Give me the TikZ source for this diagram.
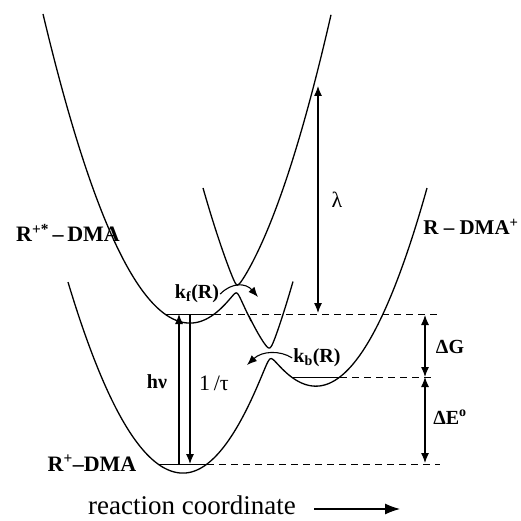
\documentclass[tikz,border=0pt]{standalone}
\usepackage{fontspec}
\setmainfont{Liberation Serif}
\usetikzlibrary{calc}
\usetikzlibrary{arrows.meta}
\tikzset{
  declare function={
    Ees(\x)=32.3-(\x<19?0.143:0.155)*(\x-19)^2;
    Ecs(\x)=38.6-(\x<31.6?0.155:0.1607)*(\x-31.6)^2;
    Egs(\x)=47.3-(\x<18.3?0.1444:0.158)*(\x-18.3)^2;
    lo(\a,\b,\v)=(\a+\b)/2+sqrt(((\a-\b)/2)^2+\v^2);
    hi(\a,\b,\v)=(\a+\b)/2-sqrt(((\a-\b)/2)^2+\v^2);
  },
  surf/.style={line width=1.3pt},
  lvl/.style={line width=1pt},
  lvldash/.style={line width=1pt, dash pattern=on 7pt off 5pt},
  tip/.style={line width=1.1pt, >={Latex[length=10pt,width=8pt]}},
  lab/.style={font=\fontsize{20}{24}\selectfont\bfseries, inner sep=1pt},
  state/.style={font=\fontsize{22}{26}\selectfont\bfseries, inner sep=1pt},
  sym/.style={font=\fontsize{22}{26}\selectfont, inner sep=1pt}
}

\begin{document}
\begin{tikzpicture}[x=10pt,y=-10pt]
\useasboundingbox (0,0) rectangle (52,52.1);
% potential curves
\draw[surf] plot[domain=4.3:25,samples=150] (\x,{lo(Ees(\x),Ecs(\x),0.4)})
  -- plot[domain=25:29.3,samples=50] (\x,{hi(Ecs(\x),Egs(\x),0.55)});
\draw[surf] plot[domain=20.3:33.1,samples=120] (\x,{hi(Ees(\x),Ecs(\x),0.4)});
\draw[surf] plot[domain=6.8:42.7,samples=220] (\x,{lo(Ecs(\x),Egs(\x),0.55)});
% levels
\coordinate (esL) at (16.5,31.4);
\coordinate (esR) at (21.4,31.4);
\coordinate (esE) at (44.0,31.4);
\coordinate (csL) at (29.2,37.7);
\coordinate (csR) at (34.0,37.7);
\coordinate (csE) at (43.5,37.7);
\coordinate (gsL) at (15.8,46.4);
\coordinate (gsR) at (20.7,46.4);
\coordinate (gsE) at (44.0,46.4);
\draw[lvl] (esL) -- (esR);
\draw[lvl] (csL) -- (csR);
\draw[lvl] (gsL) -- (gsR);
\draw[lvldash] (esR) -- (esE);
\draw[lvldash] (csR) -- (csE);
\draw[lvldash] (gsR) -- (gsE);
% vertical arrows
\coordinate (hvB) at (17.9,46.4);
\coordinate (hvT) at (17.9,31.4);
\coordinate (tauT) at (19.0,31.4);
\coordinate (tauB) at (19.0,46.4);
\coordinate (lamT) at (31.8,8.6);
\coordinate (lamB) at (31.8,31.3);
\coordinate (dgT) at (42.5,31.5);
\coordinate (dgB) at (42.5,37.7);
\coordinate (deB) at (42.5,46.3);
\draw[tip,->] (hvB) -- (hvT);
\draw[tip,->] (tauT) -- (tauB);
\draw[tip,<->] (lamB) -- (lamT);
\draw[tip,<->] (dgT) -- (dgB);
\draw[tip,<->] (dgB) -- (deB);
% labels
\node[state] (exc) at (6.8,23.3) {R\textsuperscript{+*}\,–\,DMA};
\node[state, font=\fontsize{21}{25}\selectfont\bfseries] (cs) at (47.1,22.7) {R – DMA\textsuperscript{+}};
\node[state] (gs) at (9.2,46.3) {R\textsuperscript{+}–DMA};
\node[lab] (kf) at (19.7,29.4) {k\textsubscript{f}(R)};
\node[lab] (kb) at (31.7,35.8) {k\textsubscript{b}(R)};
\node[lab] (hv) at (15.7,38.2) {hν};
\node[sym] (tau) at (21.4,38.3) {1\,/τ};
\node[sym] (lam) at (33.7,20.0) {λ};
\node[lab] (dg) at (45.0,34.7) {ΔG};
\node[lab] (de) at (45.0,41.7) {ΔE\textsuperscript{o}};
% rate arrows
\draw[tip,->] (kf.east) .. controls (23.2,28.2) and (24.6,28.3) .. (25.8,29.7);
\draw[tip,->] (kb.west) .. controls (28.0,35.0) and (26.2,35.1) .. (24.7,36.5);
% axis
\node[font=\fontsize{27}{30}\selectfont, inner sep=0pt] (rc) at (19.2,50.5) {reaction coordinate};
\coordinate (rcE) at (40.0,50.9);
\draw[line width=1.1pt, -{Latex[length=15pt,width=11pt]}] ($(rc.east)+(1.8,0.4)$) -- (rcE);
\end{tikzpicture}
\end{document}
